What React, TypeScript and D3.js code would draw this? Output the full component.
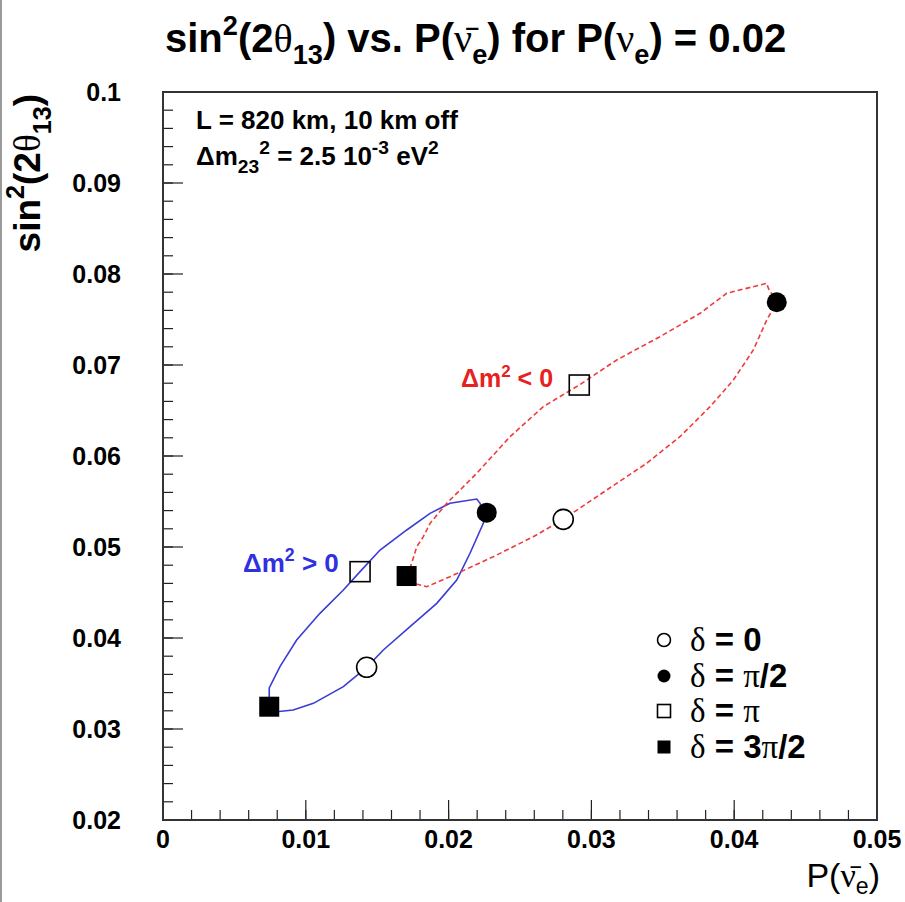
import React from 'react';
import * as d3 from 'd3';

const W = 905;
const H = 902;

const X_DOMAIN = [0, 0.05];
const Y_DOMAIN = [0.02, 0.1];
const xTicks = [0, 0.01, 0.02, 0.03, 0.04, 0.05];
const xTickLabels = ['0', '0.01', '0.02', '0.03', '0.04', '0.05'];
const yTicks = [0.02, 0.03, 0.04, 0.05, 0.06, 0.07, 0.08, 0.09, 0.1];
const yTickLabels = ['0.02', '0.03', '0.04', '0.05', '0.06', '0.07', '0.08', '0.09', '0.1'];

// Δm² > 0 contour (closed)
const normalX = [0.00744, 0.00744, 0.00819, 0.00936, 0.01099, 0.01263, 0.0138, 0.0152, 0.01707, 0.0187, 0.0201, 0.02197, 0.0222, 0.02255, 0.02243, 0.0215, 0.02057, 0.01917, 0.0173, 0.01543, 0.01426, 0.01263, 0.01053, 0.00912, 0.00796];
const normalY = [0.03245, 0.03451, 0.03685, 0.03978, 0.04271, 0.04527, 0.04729, 0.04967, 0.05187, 0.0537, 0.0548, 0.05527, 0.0548, 0.05333, 0.0526, 0.04931, 0.04637, 0.04381, 0.04124, 0.03868, 0.03678, 0.03465, 0.03282, 0.03209, 0.0319];

// Δm² < 0 contour (closed)
const invertedX = [0.01706, 0.01742, 0.01777, 0.01823, 0.0187, 0.01987, 0.0215, 0.02197, 0.0243, 0.02663, 0.02915, 0.03177, 0.0348, 0.03761, 0.03947, 0.04228, 0.04239, 0.04298, 0.04228, 0.04134, 0.03994, 0.03831, 0.0362, 0.03387, 0.03107, 0.02803, 0.02593, 0.02313, 0.0201, 0.01847, 0.01753];
const invertedY = [0.04681, 0.04824, 0.05003, 0.05113, 0.0526, 0.0548, 0.05736, 0.0581, 0.06212, 0.06542, 0.0678, 0.07055, 0.07311, 0.07568, 0.07788, 0.07898, 0.07843, 0.07689, 0.07495, 0.07165, 0.06835, 0.06542, 0.06212, 0.0592, 0.05626, 0.05304, 0.05113, 0.04893, 0.04674, 0.04564, 0.04601];

// markers: δ = 0, π/2, π, 3π/2
const deltaLabels = ['0', 'π/2', 'π', '3π/2'];
const markerKinds = ['openCircle', 'filledCircle', 'openSquare', 'filledSquare'];
const normalMarkX = [0.01426, 0.02267, 0.0138, 0.00744];
const normalMarkY = [0.03678, 0.05377, 0.04729, 0.03245];
const invertedMarkX = [0.02803, 0.04298, 0.02915, 0.01706];
const invertedMarkY = [0.05304, 0.07689, 0.0678, 0.04681];

const SANS = "'Liberation Sans', Arial, Helvetica, sans-serif";
const SERIF = "'Liberation Serif', 'Times New Roman', serif";

type Seg = { t: string; s?: 'sub' | 'sup'; f?: 'serif' };

function Rich(props: {
  x: number; y: number; size: number; anchor?: string; weight?: string | number;
  fill?: string; parts: Seg[]; rotate?: number; scriptScale?: number; subShift?: number;
}) {
  const { x, y, size, anchor = 'start', weight = 'bold', fill = '#000', parts, rotate, scriptScale = 0.68, subShift = 0.3 } = props;
  let cur = 0;
  const spans = parts.map((p, i) => {
    const target = p.s === 'sup' ? -0.42 * size : p.s === 'sub' ? subShift * size : 0;
    const dy = target - cur;
    cur = target;
    const fs = p.s ? size * scriptScale : size;
    return (
      <tspan key={i} dy={dy} fontSize={fs} fontFamily={p.f === 'serif' ? SERIF : SANS}
        fontWeight={p.f === 'serif' ? 'normal' : weight}>{p.t}</tspan>
    );
  });
  return (
    <text x={x} y={y} textAnchor={anchor} fill={fill} fontFamily={SANS} fontWeight={weight}
      fontSize={size} transform={rotate ? `rotate(${rotate},${x},${y})` : undefined}>
      {spans}
    </text>
  );
}

function Marker({ kind, cx, cy, r }: { kind: string; cx: number; cy: number; r: number }) {
  if (kind === 'openCircle') return <circle cx={cx} cy={cy} r={r} fill="#fff" stroke="#000" strokeWidth={1.6} />;
  if (kind === 'filledCircle') return <circle cx={cx} cy={cy} r={r} fill="#000" />;
  if (kind === 'openSquare') return <rect x={cx - r} y={cy - r} width={2 * r} height={2 * r} fill="none" stroke="#000" strokeWidth={1.6} />;
  return <rect x={cx - r} y={cy - r} width={2 * r} height={2 * r} fill="#000" />;
}

export default function App() {
  const left = 163, right = 877, top = 92, bottom = 820;
  const x = d3.scaleLinear().domain(X_DOMAIN).range([left, right]);
  const y = d3.scaleLinear().domain(Y_DOMAIN).range([bottom, top]);

  const line = d3.line<[number, number]>().x(d => x(d[0])).y(d => y(d[1])).curve(d3.curveLinearClosed);
  const normalPts = normalX.map((v, i) => [v, normalY[i]] as [number, number]);
  const invertedPts = invertedX.map((v, i) => [v, invertedY[i]] as [number, number]);

  const xMinor = d3.range(0, 0.05001, 0.002);
  const yMinor = d3.range(0.02, 0.10001, 0.002);

  const nuBar: Seg = { t: 'ν\u0304', f: 'serif' };

  return (
    <svg width={W} height={H} style={{ position: 'absolute', left: 0, top: 0, background: '#fff' }}>
      <rect x={0} y={0} width={W} height={H} fill="#fff" />
      <rect x={0} y={0} width={2} height={H} fill="#9a9a9a" />

      {/* title */}
      <Rich x={165} y={52} size={40} parts={[
        { t: 'sin' }, { t: '2', s: 'sup' }, { t: '(2' }, { t: 'θ', f: 'serif' }, { t: '13', s: 'sub' },
        { t: ') vs. P(' }, nuBar, { t: 'e', s: 'sub' }, { t: ') for P(' }, { t: 'ν', f: 'serif' }, { t: 'e', s: 'sub' }, { t: ') = 0.02' },
      ]} />

      {/* minor ticks */}
      {xMinor.map((v, i) => (
        <line key={'xm' + i} x1={x(v)} x2={x(v)} y1={bottom} y2={bottom - 10} stroke="#222" strokeWidth={1.2} />
      ))}
      {yMinor.map((v, i) => (
        <line key={'ym' + i} x1={left} x2={left + 10} y1={y(v)} y2={y(v)} stroke="#222" strokeWidth={1.2} />
      ))}
      {xTicks.map((v, i) => (
        <line key={'xM' + i} x1={x(v)} x2={x(v)} y1={bottom} y2={bottom - 20} stroke="#222" strokeWidth={1.2} />
      ))}
      {yTicks.map((v, i) => (
        <line key={'yM' + i} x1={left} x2={left + 20} y1={y(v)} y2={y(v)} stroke="#222" strokeWidth={1.2} />
      ))}

      {/* curves */}
      <path d={line(normalPts) || ''} fill="none" stroke="#3b3bd6" strokeWidth={1.6} />
      <path d={line(invertedPts) || ''} fill="none" stroke="#f03a3a" strokeWidth={1.6} strokeDasharray="5 3" />

      {/* markers */}
      {normalMarkX.map((v, i) => (
        <Marker key={'n' + i} kind={markerKinds[i]} cx={x(v)} cy={y(normalMarkY[i])} r={10} />
      ))}
      {invertedMarkX.map((v, i) => (
        <Marker key={'v' + i} kind={markerKinds[i]} cx={x(v)} cy={y(invertedMarkY[i])} r={10} />
      ))}

      {/* frame */}
      <rect x={left} y={top} width={right - left} height={bottom - top} fill="none" stroke="#333" strokeWidth={2} />

      {/* tick labels */}
      {xTicks.map((v, i) => (
        <text key={'xl' + i} x={x(v)} y={bottom + 28} textAnchor="middle" fontFamily={SANS} fontWeight="bold" fontSize={25}>{xTickLabels[i]}</text>
      ))}
      {yTicks.map((v, i) => (
        <text key={'yl' + i} x={left - 42} y={y(v) + 9} textAnchor="end" fontFamily={SANS} fontWeight="bold" fontSize={25}>{yTickLabels[i]}</text>
      ))}

      {/* axis titles */}
      <Rich x={880} y={887} size={34} anchor="end" weight="normal" subShift={0.22} parts={[
        { t: 'P(' }, nuBar, { t: 'e', s: 'sub' }, { t: ')' },
      ]} />
      <Rich x={40} y={94} size={37} anchor="end" rotate={-90} parts={[
        { t: 'sin' }, { t: '2', s: 'sup' }, { t: '(2' }, { t: 'θ', f: 'serif' }, { t: '13', s: 'sub' }, { t: ')' },
      ]} />

      {/* annotation */}
      <Rich x={196} y={129} size={26} parts={[{ t: 'L = 820 km, 10 km off' }]} />
      <Rich x={196} y={165} size={26} scriptScale={0.74} parts={[
        { t: 'Δm' }, { t: '23', s: 'sub' }, { t: '2', s: 'sup' }, { t: ' = 2.5 10' }, { t: '-3', s: 'sup' }, { t: ' eV' }, { t: '2', s: 'sup' },
      ]} />

      {/* curve labels */}
      <Rich x={243} y={572} size={26} fill="#3030e0" parts={[{ t: 'Δm' }, { t: '2', s: 'sup' }, { t: ' >  0' }]} />
      <Rich x={461} y={387} size={25} fill="#e82020" parts={[{ t: 'Δm' }, { t: '2', s: 'sup' }, { t: ' < 0' }]} />

      {/* legend */}
      {deltaLabels.map((lab, i) => {
        const cy = [640, 676, 711, 747][i];
        return (
          <g key={'lg' + i}>
            <Marker kind={markerKinds[i]} cx={664} cy={cy} r={6.5} />
            <Rich x={690} y={cy + 11} size={33} parts={
              lab.split(/(π)/).filter(s => s.length > 0).reduce((acc: Seg[], s) => {
                acc.push(s === 'π' ? { t: 'π', f: 'serif' } : { t: s });
                return acc;
              }, [{ t: 'δ', f: 'serif' }, { t: ' = ' }] as Seg[])
            } />
          </g>
        );
      })}
    </svg>
  );
}
